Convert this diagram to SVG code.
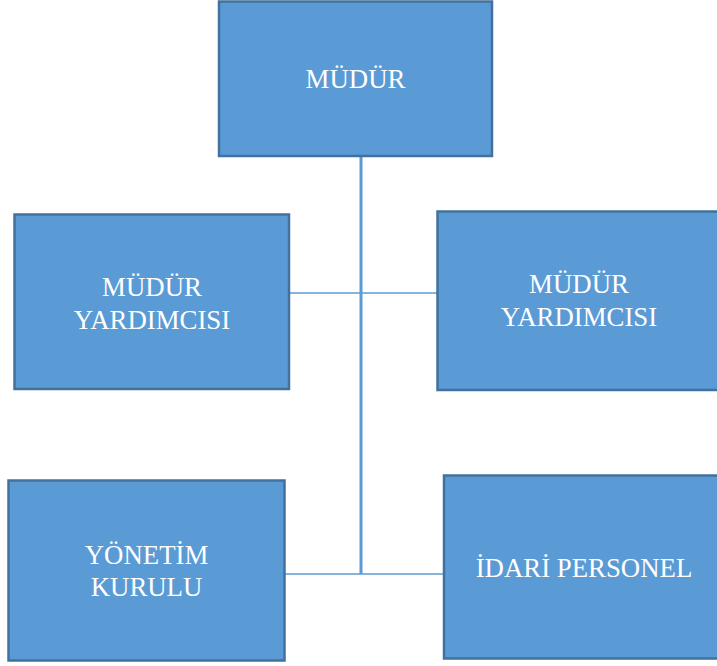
<svg xmlns="http://www.w3.org/2000/svg" width="717" height="666" viewBox="0 0 717 666">
<style>
.box{fill:#5B9BD5;stroke:#41719C;stroke-width:2.5}
.lbl{font-family:"Liberation Serif","Times New Roman",serif;font-size:26.8px;fill:#FFFFFF;text-anchor:middle}
.conn{stroke:#5B9BD5;fill:none}
</style>
<rect width="717" height="666" fill="#FFFFFF"/>
<g id="connectors">
<line class="conn" x1="361" y1="156" x2="361" y2="574" stroke-width="3"/>
<line class="conn" x1="289" y1="293" x2="438" y2="293" stroke-width="1.6"/>
<line class="conn" x1="285" y1="574" x2="444" y2="574" stroke-width="1.6"/>
</g>
<g id="mudur">
<rect class="box" x="219" y="1.5" width="273" height="154.5"/>
<text class="lbl" x="355.5" y="88">MÜDÜR</text>
</g>
<g id="mudur-yardimcisi-1">
<rect class="box" x="14.5" y="214.5" width="274.5" height="174.5"/>
<text class="lbl" x="152" y="296">MÜDÜR</text>
<text class="lbl" x="152" y="329">YARDIMCISI</text>
</g>
<g id="mudur-yardimcisi-2">
<rect class="box" x="437.5" y="211.5" width="285" height="178.5"/>
<text class="lbl" x="579" y="293">MÜDÜR</text>
<text class="lbl" x="579" y="326">YARDIMCISI</text>
</g>
<g id="yonetim-kurulu">
<rect class="box" x="8.5" y="480.5" width="276" height="180"/>
<text class="lbl" x="146.5" y="564">YÖNETİM</text>
<text class="lbl" x="146.5" y="596">KURULU</text>
</g>
<g id="idari-personel">
<rect class="box" x="444" y="475.5" width="280" height="183"/>
<text class="lbl" x="584" y="577">İDARİ PERSONEL</text>
</g>
</svg>
